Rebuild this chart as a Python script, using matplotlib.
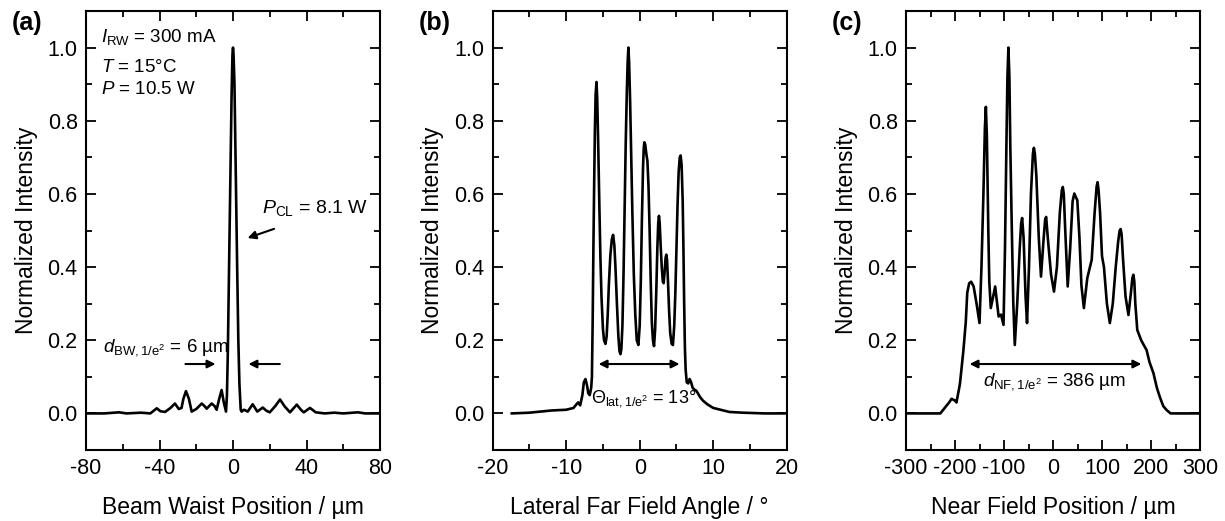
import numpy as np
import matplotlib
matplotlib.use('Agg')
import matplotlib.pyplot as plt
from matplotlib.ticker import MultipleLocator

plt.rcParams['font.family'] = ['Liberation Sans', 'DejaVu Sans']
plt.rcParams['mathtext.fontset'] = 'custom'
plt.rcParams['mathtext.rm'] = 'Liberation Sans'
plt.rcParams['mathtext.it'] = 'Liberation Sans:italic'
plt.rcParams['axes.unicode_minus'] = False

# (a) beam waist profile
bw_x = [-80, -70, -62, -58, -50, -45, -43, -41.5, -39.5, -37, -34, -31.6, -29.5, -28, -27, -25.6, -24,
        -22.5, -20, -17, -15.5, -14.3, -13, -11.6, -10, -8.9, -7.5, -6.2, -5, -3.8, -3.3, -2.8, -2.2,
        -1.5, -0.8, -0.3, 0, 0.3, 0.8, 1.5, 2.2, 2.9, 3.5, 4.2, 4.7, 6, 8, 10.7, 12, 13.2, 16.2, 18, 20,
        23, 25.6, 28, 31, 34.7, 37, 38.5, 41.9, 45, 50, 55, 60, 68, 72, 80]
bw_y = [0.0, 0.0, 0.003, 0.0, 0.002, 0.0, 0.008, 0.014, 0.006, 0.004, 0.015, 0.027, 0.012, 0.015, 0.04,
        0.061, 0.04, 0.005, 0.012, 0.027, 0.02, 0.013, 0.02, 0.027, 0.02, 0.01, 0.04, 0.064, 0.03, 0.005,
        0.05, 0.17, 0.38, 0.62, 0.86, 0.98, 1.0, 0.98, 0.9, 0.66, 0.42, 0.2, 0.08, 0.01, 0.005, 0.01,
        0.005, 0.025, 0.015, 0.005, 0.016, 0.008, 0.003, 0.02, 0.038, 0.02, 0.003, 0.024, 0.01, 0.003,
        0.015, 0.003, 0.0, 0.002, 0.0, 0.003, 0.0, 0.0]

# (b) lateral far field
ff_x = [-17.4, -15, -12, -10, -9, -8.6, -8.38, -8.1, -7.8, -7.6, -7.38, -7.15, -7.0, -6.8, -6.6, -6.5,
        -6.4, -6.3, -6.2, -6.1, -6.0, -5.88, -5.78, -5.65, -5.5, -5.35, -5.2, -5.0, -4.85, -4.66, -4.5,
        -4.35, -4.2, -4.0, -3.8, -3.62, -3.45, -3.3, -3.1, -2.9, -2.75, -2.62, -2.5, -2.35, -2.2, -2.05,
        -1.9, -1.75, -1.64, -1.54, -1.44, -1.3, -1.15, -1.0, -0.8, -0.6, -0.4, -0.18, 0.0, 0.15, 0.3,
        0.45, 0.55, 0.63, 0.75, 0.9, 1.05, 1.2, 1.35, 1.5, 1.65, 1.8, 1.95, 2.1, 2.25, 2.4, 2.52, 2.62,
        2.72, 2.85, 3.0, 3.15, 3.26, 3.4, 3.52, 3.62, 3.72, 3.85, 4.0, 4.15, 4.35, 4.52, 4.7, 4.85, 5.0,
        5.15, 5.3, 5.45, 5.57, 5.7, 5.85, 5.95, 6.05, 6.15, 6.25, 6.4, 6.6, 6.79, 7.0, 7.2, 7.45, 7.7,
        7.92, 8.2, 8.6, 9.2, 10, 11, 12.2, 14, 17, 20]
ff_y = [0.0, 0.002, 0.008, 0.01, 0.015, 0.025, 0.03, 0.022, 0.05, 0.085, 0.094, 0.075, 0.055, 0.05,
        0.07, 0.1, 0.25, 0.45, 0.62, 0.77, 0.87, 0.906, 0.86, 0.74, 0.58, 0.43, 0.32, 0.23, 0.2, 0.19,
        0.21, 0.27, 0.35, 0.43, 0.475, 0.488, 0.46, 0.4, 0.3, 0.21, 0.17, 0.162, 0.175, 0.24, 0.38, 0.56,
        0.74, 0.88, 0.96, 1.0, 0.96, 0.85, 0.7, 0.55, 0.38, 0.27, 0.2, 0.187, 0.24, 0.36, 0.53, 0.67,
        0.725, 0.741, 0.735, 0.71, 0.69, 0.62, 0.5, 0.36, 0.25, 0.2, 0.184, 0.23, 0.33, 0.45, 0.52, 0.54,
        0.52, 0.46, 0.4, 0.36, 0.356, 0.39, 0.425, 0.434, 0.42, 0.36, 0.28, 0.22, 0.19, 0.187, 0.24,
        0.33, 0.45, 0.57, 0.66, 0.7, 0.705, 0.68, 0.58, 0.45, 0.3, 0.18, 0.12, 0.085, 0.082, 0.094, 0.085,
        0.07, 0.065, 0.062, 0.055, 0.045, 0.035, 0.025, 0.015, 0.01, 0.004, 0.002, 0.0, 0.0]

# (c) near field
nf_x = [-300, -230, -224, -212, -207, -200, -197, -190, -183, -178, -175, -171, -167, -162, -156, -150,
        -146, -142, -139, -137, -135, -132, -130, -127, -122, -118, -114, -111, -106, -101, -98, -95, -93,
        -91, -89, -87, -84, -81, -78, -73, -68, -65, -63, -60, -56, -53, -49, -45, -41, -39, -37, -34,
        -29, -24.5, -19, -16, -14, -10, -4, 2, 8, 14, 18, 20, 22, 25, 30, 35, 40, 43.5, 47, 49.6, 54,
        58, 63, 70, 79, 85, 89, 91, 93, 96, 100, 104, 110, 116, 122, 128, 133, 136, 138, 140, 143, 148,
        154, 159, 162, 164, 166, 168, 172, 180, 186, 191, 197, 205, 212, 218, 225, 232, 240, 300]
nf_y = [0.0, 0.0, 0.01, 0.03, 0.04, 0.035, 0.03, 0.08, 0.17, 0.25, 0.33, 0.356, 0.36, 0.347, 0.3, 0.247,
        0.4, 0.6, 0.78, 0.838, 0.76, 0.5, 0.36, 0.288, 0.32, 0.347, 0.3, 0.265, 0.27, 0.242, 0.45, 0.74,
        0.92, 1.0, 0.92, 0.72, 0.5, 0.3, 0.187, 0.3, 0.45, 0.52, 0.534, 0.48, 0.32, 0.247, 0.4, 0.6, 0.71,
        0.726, 0.71, 0.65, 0.48, 0.374, 0.48, 0.53, 0.537, 0.47, 0.38, 0.333, 0.4, 0.55, 0.61, 0.619, 0.6,
        0.5, 0.347, 0.45, 0.58, 0.601, 0.59, 0.583, 0.48, 0.35, 0.288, 0.37, 0.42, 0.55, 0.62, 0.632,
        0.61, 0.55, 0.43, 0.40, 0.3, 0.247, 0.3, 0.4, 0.47, 0.5, 0.504, 0.49, 0.42, 0.32, 0.269, 0.33,
        0.37, 0.379, 0.36, 0.3, 0.228, 0.2, 0.185, 0.173, 0.14, 0.11, 0.07, 0.045, 0.02, 0.009, 0.0, 0.0]

xlabels = ['Beam Waist Position / µm', 'Lateral Far Field Angle / °', 'Near Field Position / µm']
xlims = [(-80, 80), (-20, 20), (-300, 300)]
xmajor = [40, 10, 100]
panel_tags = ['(a)', '(b)', '(c)']

fig = plt.figure(figsize=(12.25, 5.21), dpi=100)
lefts = [86 / 1225, 492.7 / 1225, 906 / 1225]
axs = [fig.add_axes([l, 71 / 521, 294 / 1225, 439 / 521]) for l in lefts]

for ax, (x, y), xl, lim, mj, tag, l in zip(axs, [(bw_x, bw_y), (ff_x, ff_y), (nf_x, nf_y)],
                                           xlabels, xlims, xmajor, panel_tags, lefts):
    ax.plot(x, y, color='black', lw=1.9, solid_joinstyle='round')
    ax.set_xlim(*lim)
    ax.set_ylim(-0.1, 1.1)
    ax.xaxis.set_major_locator(MultipleLocator(mj))
    ax.xaxis.set_minor_locator(MultipleLocator(mj / 2))
    ax.yaxis.set_major_locator(MultipleLocator(0.2))
    ax.yaxis.set_minor_locator(MultipleLocator(0.1))
    ax.yaxis.set_major_formatter(plt.FormatStrFormatter('%.1f'))
    ax.tick_params(which='both', direction='in', top=True, right=True, labelsize=15.5, width=1.3)
    ax.tick_params(which='major', length=7, pad=6)
    ax.tick_params(which='minor', length=4)
    for s in ax.spines.values():
        s.set_linewidth(1.5)
    ax.set_xlabel(xl, fontsize=16.5, labelpad=12)
    ax.set_ylabel('Normalized Intensity', fontsize=16.5, labelpad=7)
    fig.text(l - 74 / 1225, 1 - 11 / 521, tag, fontsize=18, weight='bold', va='top')

# (a) annotations
ax = axs[0]
ax.text(-71.8, 1.014, r'$I_{\rm RW}$ = 300 mA', fontsize=13.5)
ax.text(-71.8, 0.932, r'$T$ = 15°C', fontsize=13.5)
ax.text(-71.8, 0.873, r'$P$ = 10.5 W', fontsize=13.5)
ax.annotate('', xy=(6.5, 0.477), xytext=(23.8, 0.507),
            arrowprops=dict(arrowstyle='-|>', color='black', lw=1.5, mutation_scale=12))
ax.text(16, 0.548, r'$P_{\rm CL}$ = 8.1 W', fontsize=14)
ax.annotate('', xy=(-8, 0.135), xytext=(-27.4, 0.135),
            arrowprops=dict(arrowstyle='-|>', color='black', lw=1.5, mutation_scale=12))
ax.annotate('', xy=(6.9, 0.135), xytext=(27, 0.135),
            arrowprops=dict(arrowstyle='-|>', color='black', lw=1.5, mutation_scale=12))
ax.text(-70.5, 0.17, r'$d_{\rm BW,1/e^2}$ = 6 µm', fontsize=13.5)

# (b) annotations
ax = axs[1]
ax.annotate('', xy=(5.8, 0.135), xytext=(-5.97, 0.135),
            arrowprops=dict(arrowstyle='<|-|>', color='black', lw=1.5, mutation_scale=12))
ax.text(-6.6, 0.03, r'$\mathit{\Theta}_{\rm lat,1/e^2}$ = 13°', fontsize=13)

# (c) annotations
ax = axs[2]
ax.annotate('', xy=(186, 0.135), xytext=(-176, 0.135),
            arrowprops=dict(arrowstyle='<|-|>', color='black', lw=1.5, mutation_scale=12))
ax.text(4, 0.087, r'$d_{\rm NF,1/e^2}$ = 386 µm', fontsize=13.5, ha='center', va='center')

fig.savefig('out.png', dpi=100)
